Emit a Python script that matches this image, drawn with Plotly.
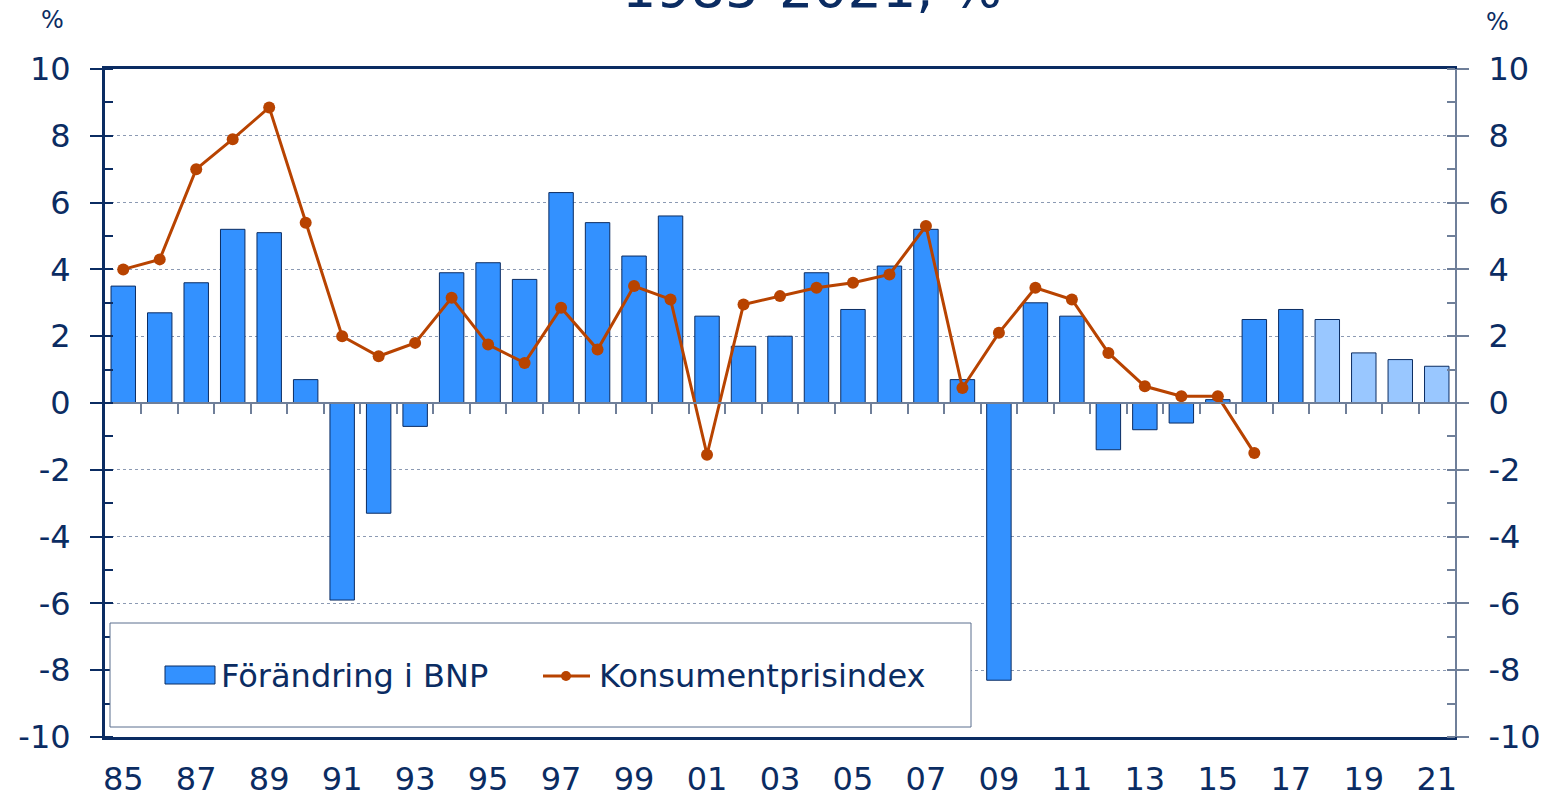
import plotly.graph_objects as go

# ---------------- data ----------------
years = list(range(1985, 2022))
tick_years = list(range(1985, 2022, 2))
tick_labels = [f"{y % 100:02d}" for y in tick_years]
y_ticks = list(range(-10, 11, 2))
y_tick_labels = [str(v) for v in y_ticks]

gdp_change = [3.5, 2.7, 3.6, 5.2, 5.1, 0.7, -5.9, -3.3, -0.7, 3.9,
              4.2, 3.7, 6.3, 5.4, 4.4, 5.6, 2.6, 1.7, 2.0, 3.9,
              2.8, 4.1, 5.2, 0.7, -8.3, 3.0, 2.6, -1.4, -0.8, -0.6,
              0.1, 2.5, 2.8, 2.5, 1.5, 1.3, 1.1]

cpi_years = list(range(1985, 2017))
cpi = [4.0, 4.3, 7.0, 7.9, 8.85, 5.4, 2.0, 1.4, 1.8, 3.15,
       1.75, 1.2, 2.85, 1.6, 3.5, 3.1, -1.55, 2.95, 3.2, 3.45,
       3.6, 3.85, 5.3, 0.45, 2.1, 3.45, 3.1, 1.5, 0.5, 0.2,
       0.2, -1.5]

forecast_from = 2018
series_names = ["Förändring i BNP", "Konsumentprisindex"]
title_text = "1985-2021, %"

# ---------------- styles ----------------
NAVY = "#0B2C62"
GREY = "#6F7F99"
BAR = "#3391FF"
BAR_LIGHT = "#99C7FF"
LINE = "#B84300"
FONT = "DejaVu Sans"

W, H = 1554, 797
# plot area in page pixels: x 105..1455, y 69..737
L, T = 105, 69
R = W - 1455
B = H - 737
pw, ph = W - L - R, H - T - B

def px_x(px):
    """page x pixel -> paper fraction"""
    return (px - L) / pw

def px_y(py):
    """page y pixel -> paper fraction"""
    return (H - B - py) / ph

bar_colors = [BAR_LIGHT if y >= forecast_from else BAR for y in years]

fig = go.Figure()
fig.add_trace(go.Bar(
    x=years, y=gdp_change, name=series_names[0],
    marker=dict(color=bar_colors, line=dict(color=NAVY, width=1)),
    width=0.67, showlegend=False,
))
fig.add_trace(go.Scatter(
    x=cpi_years, y=cpi, name=series_names[1], mode="lines+markers",
    line=dict(color=LINE, width=3),
    marker=dict(color=LINE, size=12),
    showlegend=False,
))
# invisible helper traces for the secondary axes
fig.add_trace(go.Scatter(x=[years[0]], y=[0], xaxis="x2", yaxis="y",
                         mode="markers", marker=dict(opacity=0),
                         showlegend=False, hoverinfo="skip"))
fig.add_trace(go.Scatter(x=[years[0]], y=[0], xaxis="x", yaxis="y2",
                         mode="markers", marker=dict(opacity=0),
                         showlegend=False, hoverinfo="skip"))

xr = [years[0] - 0.5, years[-1] + 0.5]
yr = [-10, 10]

fig.update_layout(
    width=W, height=H,
    margin=dict(l=L, r=R, t=T, b=B, autoexpand=False),
    paper_bgcolor="white", plot_bgcolor="white",
    font=dict(family=FONT, color=NAVY, size=32),
    xaxis=dict(
        range=xr, tickmode="array", tickvals=tick_years, ticktext=tick_labels,
        ticks="", showgrid=False, zeroline=False,
        showline=True, linecolor=NAVY, linewidth=3, mirror=True,
        ticklabelstandoff=12, tickfont=dict(size=32, color=NAVY),
    ),
    xaxis2=dict(
        range=xr, overlaying="x", anchor="free", position=0.5,
        tickmode="array", tickvals=[y + 0.5 for y in years[:-1]],
        ticks="outside", ticklen=10, tickwidth=1.5, tickcolor=GREY,
        showticklabels=False, showgrid=False, zeroline=False,
        showline=True, linecolor=GREY, linewidth=1.5,
    ),
    yaxis=dict(
        range=yr, tickmode="array", tickvals=y_ticks, ticktext=y_tick_labels,
        ticks="outside", ticklen=12, tickwidth=1.5, tickcolor=NAVY,
        minor=dict(tick0=-10, dtick=1, ticks="inside", ticklen=8,
                   tickcolor=NAVY, tickwidth=1.5),
        showline=True, linecolor=NAVY, linewidth=3,
        showgrid=True, gridcolor="#8C9AB3", gridwidth=1, griddash="dot",
        zeroline=False, ticklabelstandoff=13,
        tickfont=dict(size=32, color=NAVY),
    ),
    yaxis2=dict(
        range=yr, overlaying="y", side="right", anchor="x",
        tickmode="array", tickvals=y_ticks, ticktext=y_tick_labels,
        ticks="outside", ticklen=12, tickwidth=1.5, tickcolor=GREY,
        minor=dict(tick0=-10, dtick=1, ticks="inside", ticklen=8,
                   tickcolor=GREY, tickwidth=1.5),
        showline=True, linecolor=GREY, linewidth=2,
        showgrid=False, zeroline=False, ticklabelstandoff=13,
        tickfont=dict(size=32, color=NAVY),
    ),
)

# title (partially cut off at the top, as in the reference)
fig.add_annotation(text=title_text, xref="paper", yref="paper",
                   x=px_x(812), y=px_y(22), xanchor="center", yanchor="bottom",
                   showarrow=False, font=dict(size=54, color=NAVY, family=FONT))
# unit labels
fig.add_annotation(text="%", xref="paper", yref="paper", x=px_x(53), y=px_y(20),
                   xanchor="center", yanchor="middle", showarrow=False,
                   font=dict(size=24, color=NAVY))
fig.add_annotation(text="%", xref="paper", yref="paper", x=px_x(1497), y=px_y(22),
                   xanchor="center", yanchor="middle", showarrow=False,
                   font=dict(size=24, color=NAVY))

# custom legend
fig.add_shape(type="rect", xref="paper", yref="paper", layer="above",
              x0=px_x(110), x1=px_x(971), y0=px_y(727), y1=px_y(623),
              fillcolor="white", line=dict(color="#5A6E8E", width=1))
fig.add_shape(type="rect", xref="paper", yref="paper", layer="above",
              x0=px_x(165), x1=px_x(215), y0=px_y(684), y1=px_y(666),
              fillcolor=BAR, line=dict(color=NAVY, width=1))
fig.add_annotation(text=series_names[0], xref="paper", yref="paper",
                   x=px_x(219), y=px_y(676), xanchor="left", yanchor="middle",
                   showarrow=False, font=dict(size=32, color=NAVY))
fig.add_shape(type="line", xref="paper", yref="paper", layer="above",
              x0=px_x(543), x1=px_x(590), y0=px_y(676), y1=px_y(676),
              line=dict(color=LINE, width=3))
fig.add_shape(type="circle", xref="paper", yref="paper", layer="above",
              x0=px_x(561), x1=px_x(571), y0=px_y(681), y1=px_y(671),
              fillcolor=LINE, line=dict(color=LINE, width=0))
fig.add_annotation(text=series_names[1], xref="paper", yref="paper",
                   x=px_x(597), y=px_y(676), xanchor="left", yanchor="middle",
                   showarrow=False, font=dict(size=32, color=NAVY))

fig.write_html("out.html", config={"displayModeBar": False},
               post_script="document.body.style.margin='0';")
